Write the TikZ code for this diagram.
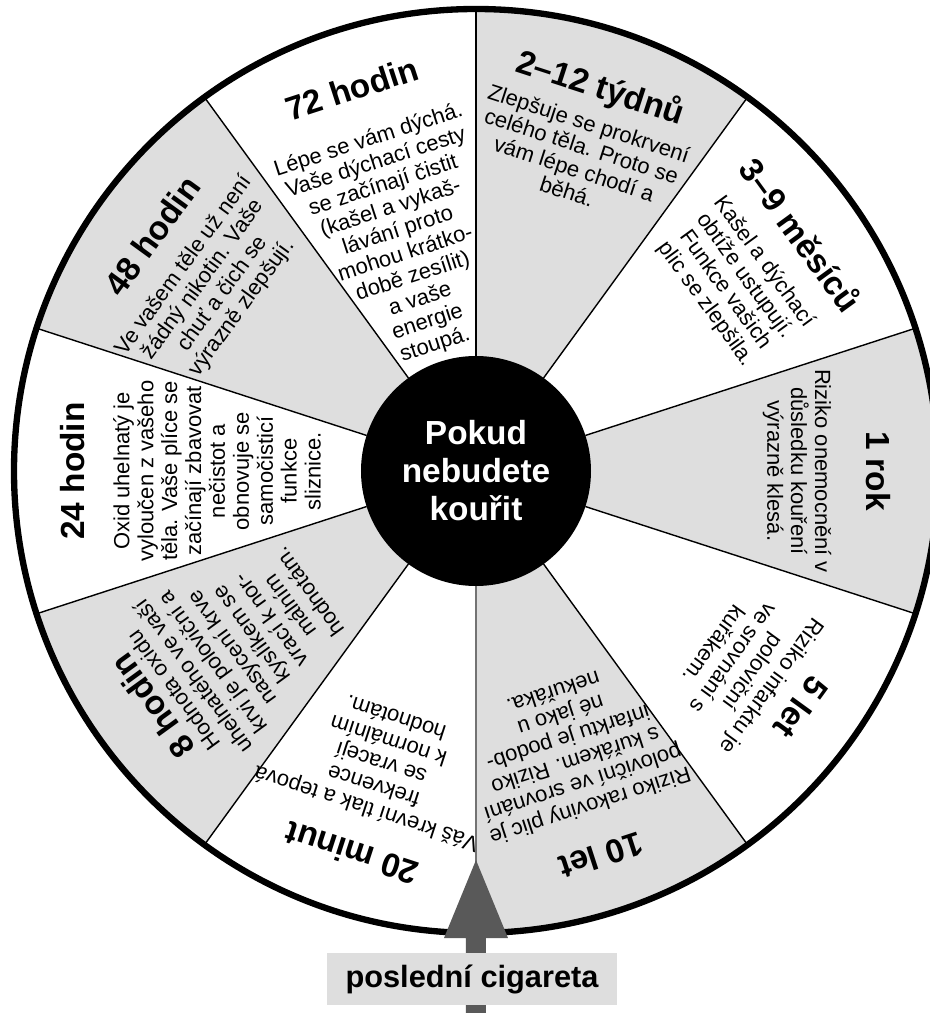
\documentclass[tikz,border=0pt]{standalone}
\usepackage{fontspec}
\setmainfont{Liberation Sans}
\usetikzlibrary{positioning}

\tikzset{
  title/.style={font=\bfseries\fontsize{19}{22}\selectfont, inner sep=0pt},
  body/.style={align=center, font=\fontsize{12.5}{13.6}\selectfont, inner sep=0pt},
  stipple/.style={fill=black!13}
}

\begin{document}
\begin{tikzpicture}
        \def\R{9.24}
        \def\r{2.3}
        \useasboundingbox (-9.52,-10.84) rectangle (9.08,9.42);

        % every second slice gets the grey screen
        \foreach \a in {54,126,198,270,342}
          \fill[stipple] (0,0) -- (\a:\R) arc[start angle=\a, delta angle=36, radius=\R] -- cycle;
        \foreach \a in {18,54,90,126,162,198,234,306,342}
          \draw[line width=0.8pt] (\a:\r) -- (\a:\R);
        \draw[line width=0.9pt, black!55] (270:\r) -- (270:\R);
        \draw[line width=3.6pt] (0,0) circle (\R);

        \node[circle, fill=black, minimum size=4.6cm, inner sep=0pt, text=white, align=center,
              font=\bfseries\fontsize{19}{21.6}\selectfont] (hub) at (0,0) {Pokud\\nebudete\\kouřit};

        \node[title, rotate=18] (h72) at (108:8.04) {72 hodin};
        \node[body, rotate=18] (t72) at (108:4.8) {Lépe se vám dýchá.\\Vaše dýchací cesty\\se začínají čistit\\(kašel a vykaš-\\lávání proto\\mohou krátko-\\době zesílit)\\a vaše\\energie\\stoupá.};

        \node[title, rotate=-18] (w212) at (72:8.04) {2–12 týdnů};
        \node[body, rotate=-18] (t212) at (72:6.6) {Zlepšuje se prokrvení\\celého těla. Proto se\\vám lépe chodí a\\běhá.};

        \node[title, rotate=-54] (m39) at (36:8.04) {3–9 měsíců};
        \node[body, rotate=-54] (t39) at (36:6.4) {Kašel a dýchací\\obtíže ustupují.\\Funkce vašich\\plic se zlepšila.};

        \node[title, rotate=-90] (y1) at (0:8.04) {1 rok};
        \node[body, rotate=-90] (ty1) at (0:6.42) {Riziko onemocnění v\\důsledku kouření\\výrazně klesá.};

        \node[title, rotate=234] (y5) at (324:8.04) {5 let};
        \node[body, rotate=234] (ty5) at (324:6.62) {Riziko infarktu je\\poloviční\\ve srovnání s\\kuřákem.};

        \node[title, rotate=198] (y10) at (288:8.1) {10 let};
        \node[body, rotate=198] (ty10) at (289:5.9) {Riziko rakoviny plic je\\poloviční ve srovnání\\s kuřákem. Riziko\\infarktu je podob-\\né jako u\\nekuřáka.};

        \node[title, rotate=162] (m20) at (252:8.04) {20 minut};
        \node[body, rotate=162] (tm20) at (252:6.16) {Váš krevní tlak a tepová\\frekvence\\se vracejí\\k normálním\\hodnotám.};

        \node[title, rotate=126] (h8) at (216:8.0) {8 hodin};
        \node[body, rotate=126] (th8) at (216:5.8) {Hodnota oxidu\\uhelnatého ve vaší\\krvi je poloviční a\\nasycení krve\\kyslíkem se\\vrací k nor-\\málním\\hodnotám.};

        \node[title, rotate=90] (h24) at (180:8.06) {24 hodin};
        \node[body, rotate=90] (th24) at (180:5.18) {Oxid uhelnatý je\\vyloučen z vašeho\\těla. Vaše plíce se\\začínají zbavovat\\nečistot a\\obnovuje se\\samočisticí\\funkce\\sliznice.};

        \node[title, rotate=54] (h48) at (144:8.0) {48 hodin};
        \node[body, rotate=54] (th48) at (145:6.42) {Ve vašem těle už není\\žádný nikotin. Vaše\\chuť a čich se\\výrazně zlepšují.};

        % pointer from the last cigarette up to the wheel
        \coordinate (tip) at (0,-7.78);
        \fill[black!65] (-0.2,-10.84) -- (-0.2,-9.34) -- (-0.64,-9.34) -- (tip)
              -- (0.64,-9.34) -- (0.2,-9.34) -- (0.2,-10.84) -- cycle;
        \node[stipple, minimum width=5.8cm, minimum height=1.04cm,
              font=\bfseries\fontsize{17.5}{20}\selectfont] (last) at (-0.08,-10.16) {poslední cigareta};
\end{tikzpicture}
\end{document}
